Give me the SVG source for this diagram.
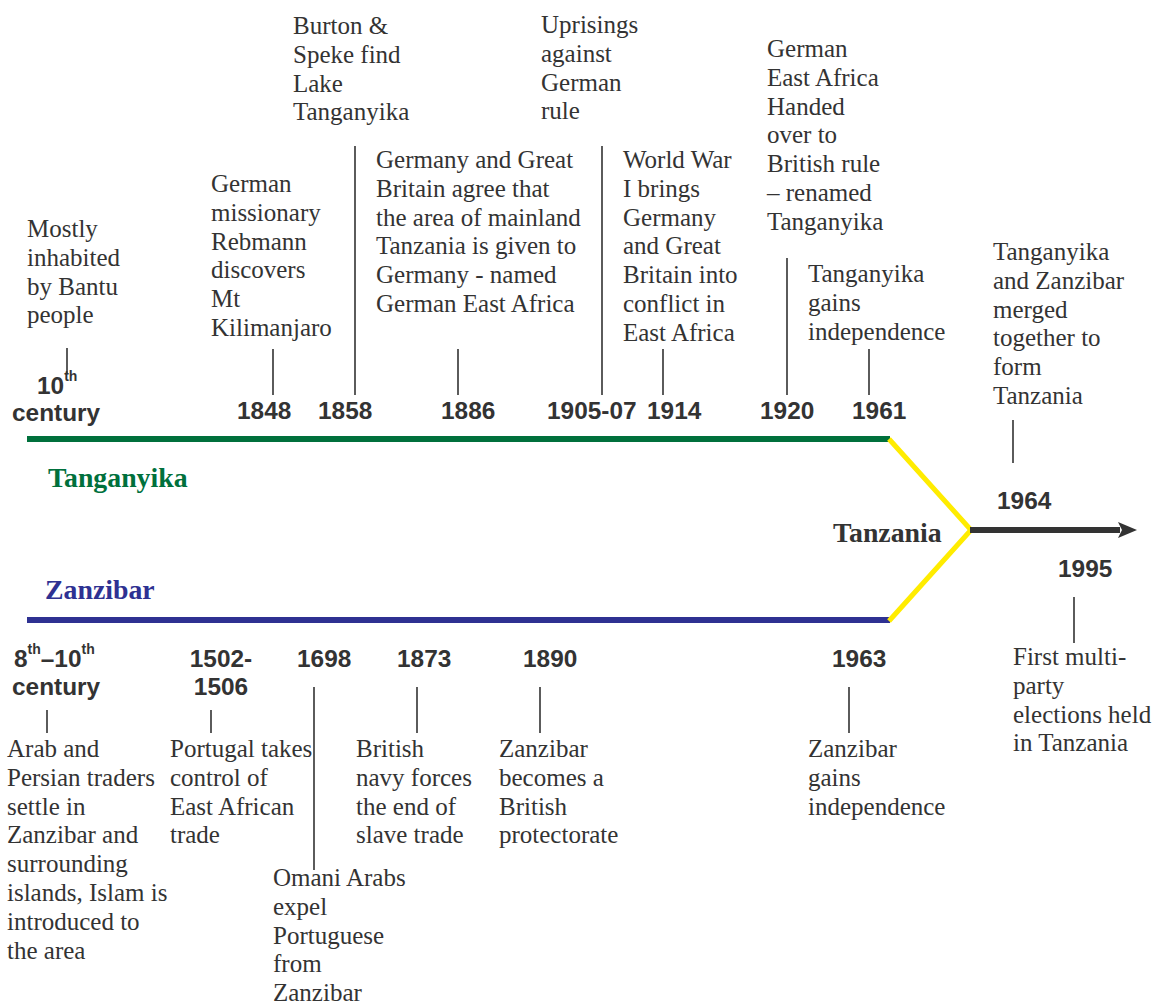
<svg xmlns="http://www.w3.org/2000/svg" width="1155" height="1004" viewBox="0 0 1155 1004">
<style>
.t{font-family:"Liberation Serif","Times New Roman",serif;font-size:25px;fill:#333}
.y{font-family:"Liberation Sans",Arial,sans-serif;font-size:24.4px;font-weight:bold;fill:#333}
.s{font-size:14px}
.lab{font-family:"Liberation Serif","Times New Roman",serif;font-size:27.8px;font-weight:bold}
.tick{stroke:#333;stroke-width:1.6;fill:none}
</style>
<defs>
<marker id="ah" markerUnits="userSpaceOnUse" markerWidth="22" markerHeight="20" refX="19" refY="10" orient="auto">
<path d="M0,2 L19,10 L0,18 L5,10 Z" fill="#333"/>
</marker>
</defs>
<rect width="1155" height="1004" fill="#fff"/>
<g id="connectors">
<line x1="27" y1="439" x2="890" y2="439" stroke="#00703C" stroke-width="6"/>
<line x1="27" y1="620" x2="890" y2="620" stroke="#2E3192" stroke-width="6"/>
<polyline points="889,439 971,530 889,621" fill="none" stroke="#FFEC00" stroke-width="5"/>
<line x1="970" y1="530" x2="1120" y2="530" stroke="#333" stroke-width="6"/>
<path d="M1118,522 L1137,530 L1118,538 L1122,530 Z" fill="#333"/>
<line class="tick" x1="67" y1="348" x2="67" y2="373"/>
<line class="tick" x1="273" y1="349" x2="273" y2="395"/>
<line class="tick" x1="355" y1="146" x2="355" y2="395"/>
<line class="tick" x1="458" y1="349" x2="458" y2="395"/>
<line class="tick" x1="602" y1="146" x2="602" y2="395"/>
<line class="tick" x1="663" y1="349" x2="663" y2="395"/>
<line class="tick" x1="787" y1="258" x2="787" y2="395"/>
<line class="tick" x1="869" y1="349" x2="869" y2="395"/>
<line class="tick" x1="1013" y1="420" x2="1013" y2="463"/>
<line class="tick" x1="1074" y1="597" x2="1074" y2="643"/>
<line class="tick" x1="47" y1="710" x2="47" y2="733"/>
<line class="tick" x1="211" y1="710" x2="211" y2="733"/>
<line class="tick" x1="314" y1="687" x2="314" y2="870"/>
<line class="tick" x1="417" y1="687" x2="417" y2="733"/>
<line class="tick" x1="540" y1="687" x2="540" y2="733"/>
<line class="tick" x1="849" y1="687" x2="849" y2="733"/>
</g>
<g id="labels">
<text class="lab" x="48" y="487" fill="#00703C">Tanganyika</text>
<text class="lab" x="45" y="599" fill="#2E3192">Zanzibar</text>
<text class="lab" x="833" y="542" fill="#333">Tanzania</text>
</g>
<g id="e10th">
<text class="y" x="37" y="394">10<tspan class="s" dy="-13">th</tspan></text>
<text class="y" x="12" y="421">century</text>
<text class="t" x="27" y="237">Mostly<tspan x="27" dy="28.8">inhabited</tspan><tspan x="27" dy="28.8">by Bantu</tspan><tspan x="27" dy="28.8">people</tspan></text>
</g>
<g id="e1848">
<text class="y" x="237" y="419">1848</text>
<text class="t" x="211" y="192">German<tspan x="211" dy="28.8">missionary</tspan><tspan x="211" dy="28.8">Rebmann</tspan><tspan x="211" dy="28.8">discovers</tspan><tspan x="211" dy="28.8">Mt</tspan><tspan x="211" dy="28.8">Kilimanjaro</tspan></text>
</g>
<g id="e1858">
<text class="y" x="318" y="419">1858</text>
<text class="t" x="293" y="34">Burton &amp;<tspan x="293" dy="28.8">Speke find</tspan><tspan x="293" dy="28.8">Lake</tspan><tspan x="293" dy="28.8">Tanganyika</tspan></text>
</g>
<g id="e1886">
<text class="y" x="441" y="419">1886</text>
<text class="t" x="376" y="168">Germany and Great<tspan x="376" dy="28.8">Britain agree that</tspan><tspan x="376" dy="28.8">the area of mainland</tspan><tspan x="376" dy="28.8">Tanzania is given to</tspan><tspan x="376" dy="28.8">Germany - named</tspan><tspan x="376" dy="28.8">German East Africa</tspan></text>
</g>
<g id="e1905">
<text class="y" x="547" y="419">1905-07</text>
<text class="t" x="541" y="33">Uprisings<tspan x="541" dy="28.8">against</tspan><tspan x="541" dy="28.8">German</tspan><tspan x="541" dy="28.8">rule</tspan></text>
</g>
<g id="e1914">
<text class="y" x="647" y="419">1914</text>
<text class="t" x="623" y="168">World War<tspan x="623" dy="28.8">I brings</tspan><tspan x="623" dy="28.8">Germany</tspan><tspan x="623" dy="28.8">and Great</tspan><tspan x="623" dy="28.8">Britain into</tspan><tspan x="623" dy="28.8">conflict in</tspan><tspan x="623" dy="28.8">East Africa</tspan></text>
</g>
<g id="e1920">
<text class="y" x="760" y="419">1920</text>
<text class="t" x="767" y="57">German<tspan x="767" dy="28.8">East Africa</tspan><tspan x="767" dy="28.8">Handed</tspan><tspan x="767" dy="28.8">over to</tspan><tspan x="767" dy="28.8">British rule</tspan><tspan x="767" dy="28.8">– renamed</tspan><tspan x="767" dy="28.8">Tanganyika</tspan></text>
</g>
<g id="e1961">
<text class="y" x="852" y="419">1961</text>
<text class="t" x="808" y="282">Tanganyika<tspan x="808" dy="28.8">gains</tspan><tspan x="808" dy="28.8">independence</tspan></text>
</g>
<g id="e1964">
<text class="y" x="997" y="509">1964</text>
<text class="t" x="993" y="260">Tanganyika<tspan x="993" dy="28.8">and Zanzibar</tspan><tspan x="993" dy="28.8">merged</tspan><tspan x="993" dy="28.8">together to</tspan><tspan x="993" dy="28.8">form</tspan><tspan x="993" dy="28.8">Tanzania</tspan></text>
</g>
<g id="e1995">
<text class="y" x="1058" y="577">1995</text>
<text class="t" x="1013" y="665">First multi-<tspan x="1013" dy="28.8">party</tspan><tspan x="1013" dy="28.8">elections held</tspan><tspan x="1013" dy="28.8">in Tanzania</tspan></text>
</g>
<g id="e8th">
<text class="y" x="14" y="667">8<tspan class="s" dy="-13">th</tspan><tspan dy="13">–10</tspan><tspan class="s" dy="-13">th</tspan></text>
<text class="y" x="12" y="695">century</text>
<text class="t" x="7" y="757">Arab and<tspan x="7" dy="28.8">Persian traders</tspan><tspan x="7" dy="28.8">settle in</tspan><tspan x="7" dy="28.8">Zanzibar and</tspan><tspan x="7" dy="28.8">surrounding</tspan><tspan x="7" dy="28.8">islands, Islam is</tspan><tspan x="7" dy="28.8">introduced to</tspan><tspan x="7" dy="28.8">the area</tspan></text>
</g>
<g id="e1502">
<text class="y" x="221" y="667" text-anchor="middle">1502-</text>
<text class="y" x="221" y="695" text-anchor="middle">1506</text>
<text class="t" x="170" y="757">Portugal takes<tspan x="170" dy="28.8">control of</tspan><tspan x="170" dy="28.8">East African</tspan><tspan x="170" dy="28.8">trade</tspan></text>
</g>
<g id="e1698">
<text class="y" x="297" y="667">1698</text>
<text class="t" x="273" y="886">Omani Arabs<tspan x="273" dy="28.8">expel</tspan><tspan x="273" dy="28.8">Portuguese</tspan><tspan x="273" dy="28.8">from</tspan><tspan x="273" dy="28.8">Zanzibar</tspan></text>
</g>
<g id="e1873">
<text class="y" x="397" y="667">1873</text>
<text class="t" x="356" y="757">British<tspan x="356" dy="28.8">navy forces</tspan><tspan x="356" dy="28.8">the end of</tspan><tspan x="356" dy="28.8">slave trade</tspan></text>
</g>
<g id="e1890">
<text class="y" x="523" y="667">1890</text>
<text class="t" x="499" y="757">Zanzibar<tspan x="499" dy="28.8">becomes a</tspan><tspan x="499" dy="28.8">British</tspan><tspan x="499" dy="28.8">protectorate</tspan></text>
</g>
<g id="e1963">
<text class="y" x="832" y="667">1963</text>
<text class="t" x="808" y="757">Zanzibar<tspan x="808" dy="28.8">gains</tspan><tspan x="808" dy="28.8">independence</tspan></text>
</g>
</svg>
